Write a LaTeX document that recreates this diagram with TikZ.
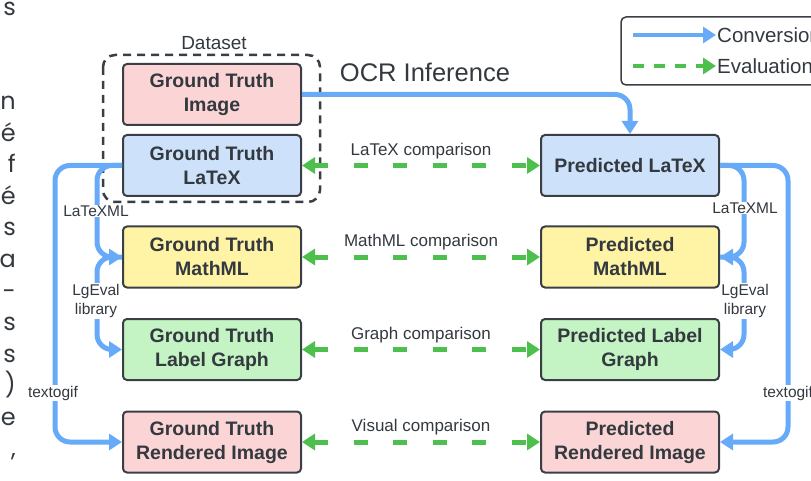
\documentclass[tikz,border=0pt]{standalone}
\usepackage{fontspec}
\setmainfont{Liberation Sans}
\newfontfamily\edgefont{Poppins}
\usetikzlibrary{arrows.meta}

\definecolor{convblue}{HTML}{66AAF8}
\definecolor{evalgreen}{HTML}{4CBF4C}
\definecolor{boxline}{HTML}{3A3F45}
\definecolor{txtgray}{HTML}{33393F}
\definecolor{fillred}{HTML}{FBD5D5}
\definecolor{fillblue}{HTML}{CDE2FA}
\definecolor{fillyellow}{HTML}{FFF3A6}
\definecolor{fillgreen}{HTML}{C4F3C4}

\begin{document}
\begin{tikzpicture}[x=1pt, y=-1pt,
    box/.style={draw=boxline, line width=2pt, rounded corners=4pt, minimum width=178pt,
      minimum height=61pt, inner sep=0pt, align=center, text=txtgray,
      font=\fontsize{19.5}{24}\selectfont\bfseries},
    conv/.style={convblue, line width=5pt, rounded corners=15pt,
      -{Triangle[length=13pt,width=16pt]}},
    eval/.style={evalgreen, line width=5pt, dash pattern=on 14pt off 25.5pt,
      {Triangle[length=13pt,width=16pt]}-{Triangle[length=13pt,width=16pt]}},
    cmplbl/.style={above=4pt, inner sep=0pt, text=txtgray, font=\fontsize{17}{20}\selectfont},
    toollbl/.style={fill=white, inner sep=1pt, align=center, text=txtgray,
      font=\fontsize{15.5}{19}\selectfont},
    edgechar/.style={anchor=base east, inner sep=0pt, text=txtgray, font=\edgefont\fontsize{24}{29}\selectfont}]

    \useasboundingbox (0,0) rectangle (811,481);

    % cut-off letters of the page text
    \foreach \k/\ch in {-3/s, 0/n, 1/é, 2/f, 3/é, 4/s, 5/a, 6/-, 7/s, 8/s, 9/), 10/e, 11/{,}}
      \node[edgechar] (edge\k) at (16, 110+31.5*\k) {\ch};

    \def\colgt{212}
    \def\colpred{630}

    \node [box, fill=fillred] (gtimg) at (\colgt, 94.5) {Ground Truth\\Image};
    \node [box, fill=fillblue] (gtlatex) at (\colgt, 165.5) {Ground Truth\\LaTeX};
    \node [box, fill=fillyellow] (gtmath) at (\colgt, 257) {Ground Truth\\MathML};
    \node [box, fill=fillgreen] (gtgraph) at (\colgt, 349.5) {Ground Truth\\Label Graph};
    \node [box, fill=fillred] (gtrend) at (\colgt, 442) {Ground Truth\\Rendered Image};

    \node [box, fill=fillblue] (predlatex) at (\colpred, 165.5) {Predicted LaTeX};
    \node [box, fill=fillyellow] (predmath) at (\colpred, 257) {Predicted\\MathML};
    \node [box, fill=fillgreen] (predgraph) at (\colpred, 349.5) {Predicted Label\\Graph};
    \node [box, fill=fillred] (predrend) at (\colpred, 442) {Predicted\\Rendered Image};

    % dataset group
    \draw[boxline, line width=2.5pt, dash pattern=on 8pt off 6pt, rounded corners=12pt] (103,55) rectangle (320,202);
    \node [text=txtgray, font=\fontsize{19}{22}\selectfont] (dataset) at (214,43) {Dataset};

    \node [text=txtgray, font=\fontsize{25.5}{30}\selectfont] (ocr) at (425,72) {OCR Inference};

    \coordinate (leftout) at (55,0);
    \coordinate (leftin) at (97,0);
    \coordinate (rightin) at (744,0);
    \coordinate (rightout) at (788,0);

    \draw[conv] (gtimg.east) -| (predlatex.north);

    \draw[conv] (gtlatex.west) -| (leftout |- gtrend.west) -- (gtrend.west);
    \draw[conv] (gtlatex.west) -| (leftin |- gtmath.west) -- (gtmath.west);
    \draw[conv] (gtmath.west) -| (leftin |- gtgraph.west) -- (gtgraph.west);

    \draw[conv] (predlatex.east) -| (rightout |- predrend.east) -- (predrend.east);
    \draw[conv] (predlatex.east) -| (rightin |- predmath.east) -- (predmath.east);
    \draw[conv] (predmath.east) -| (rightin |- predgraph.east) -- (predgraph.east);

    \node [toollbl] (xmlL) at (96,211) {LaTeXML};
    \node [toollbl] (lgL) at (96,301) {LgEval\\library};
    \node [toollbl] (gifL) at (53,393) {textogif};
    \node [toollbl] (xmlR) at (745,208) {LaTeXML};
    \node [toollbl] (lgR) at (745,301) {LgEval\\library};
    \node [toollbl] (gifR) at (788,393) {textogif};

    \draw[eval] (gtlatex.east) -- node[cmplbl] (cmplatex) {LaTeX comparison} (predlatex.west);
    \draw[eval] (gtmath.east) -- node[cmplbl] (cmpmath) {MathML comparison} (predmath.west);
    \draw[eval] (gtgraph.east) -- node[cmplbl] (cmpgraph) {Graph comparison} (predgraph.west);
    \draw[eval] (gtrend.east) -- node[cmplbl] (cmpvis) {Visual comparison} (predrend.west);

    % legend
    \draw[boxline, line width=1.5pt, rounded corners=5pt] (621,17) rectangle (840,85);
    \node [anchor=west, inner sep=1pt, text=txtgray, font=\fontsize{20.5}{24}\selectfont] (convtxt) at (716,35) {Conversion};
    \node [anchor=west, inner sep=1pt, text=txtgray, font=\fontsize{20.5}{24}\selectfont] (evaltxt) at (716,66) {Evaluation};
    \coordinate (convstart) at (633,35);
    \coordinate (evalstart) at (633,66);
    \draw[convblue, line width=4pt, -{Triangle[length=13pt,width=16pt]}] (convstart) -- (convtxt.west);
    \draw[evalgreen, line width=4pt, dash pattern=on 11pt off 10pt, -{Triangle[length=13pt,width=16pt]}] (evalstart) -- (evaltxt.west);

\end{tikzpicture}
\end{document}
